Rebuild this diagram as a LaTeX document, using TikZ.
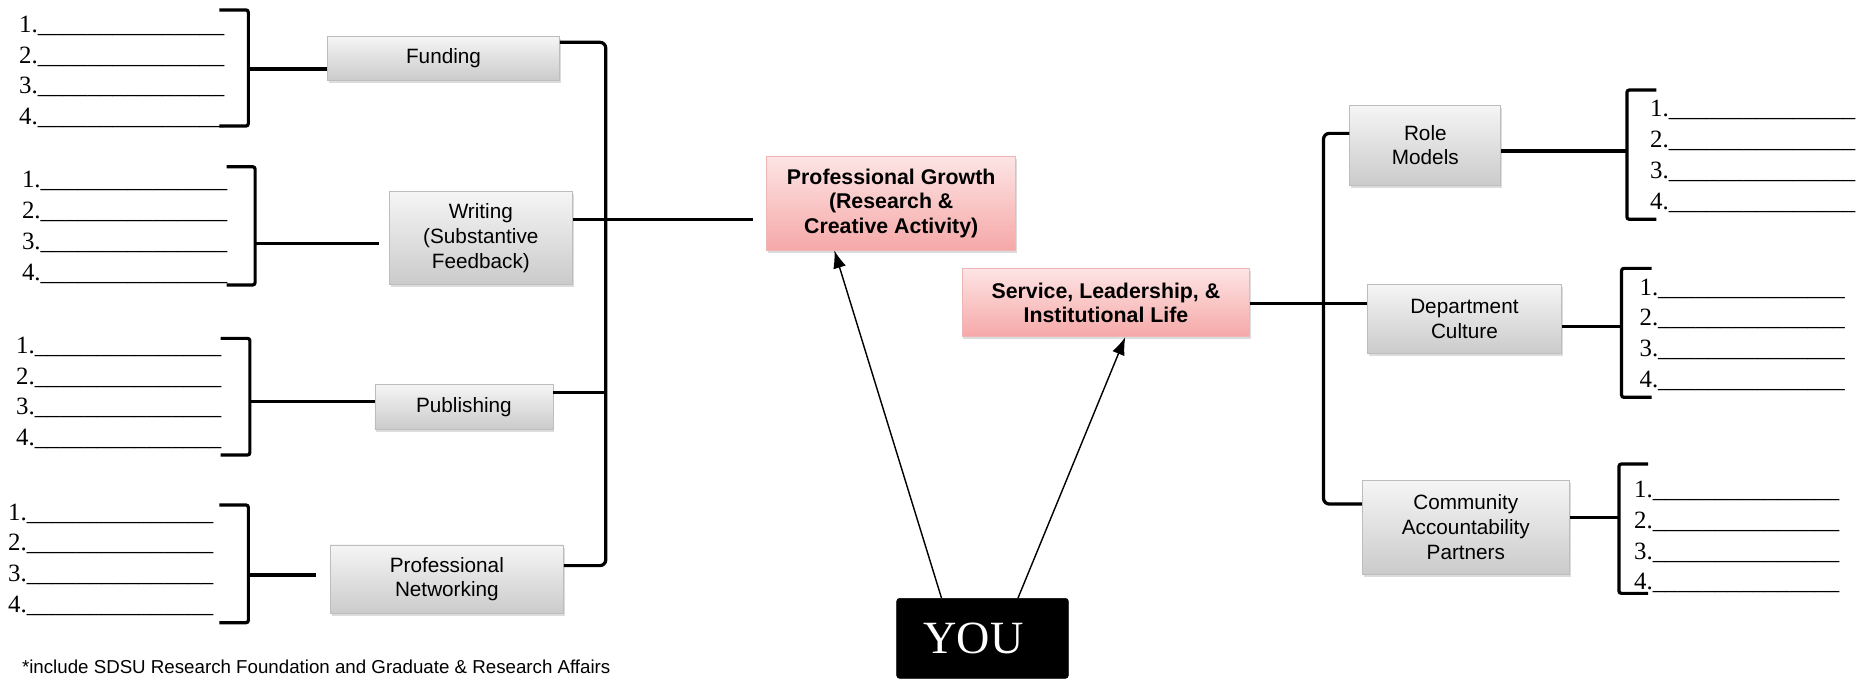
\documentclass[tikz,border=0pt]{standalone}
\usepackage{fontspec}
\setmainfont{Liberation Serif}
\newfontfamily\boxfont{Liberation Sans}
\usetikzlibrary{shadows,arrows.meta,calc}
\newcommand\myblanks{\_\_\_\_\_\_\_\_\_\_\_\_\_\_\_}
\definecolor{gtop}{HTML}{F5F5F5}
\definecolor{gbot}{HTML}{CBCBCB}
\definecolor{gline}{HTML}{BDBDBD}
\definecolor{ptop}{HTML}{FDE4E4}
\definecolor{pbot}{HTML}{F6A8A8}
\definecolor{pline}{HTML}{EFB4B4}
\begin{document}
\begin{tikzpicture}[x=1pt,y=-1pt,
  boxbase/.style={line width=0.6pt, align=center, inner sep=0pt,
    drop shadow={opacity=0.28, shadow xshift=1.2pt, shadow yshift=-2.2pt}},
  graybox/.style={boxbase, draw=gline, top color=gtop, bottom color=gbot,
    font=\boxfont\fontsize{17.5}{21}\selectfont},
  pinkbox/.style={boxbase, draw=pline, top color=ptop, bottom color=pbot,
    font=\boxfont\bfseries\fontsize{18}{20.5}\selectfont},
  youbox/.style={fill=black, draw=black, rounded corners=2.5pt, inner sep=0pt,
    text=white, font=\fontsize{39}{40}\selectfont},
  conn/.style={line width=2.7pt},
  brk/.style={line width=2.7pt, rounded corners=2pt},
  arr/.style={line width=1.2pt, -{Latex[length=15pt,width=11pt]}},
  numline/.style={anchor=base west, inner sep=0pt, font=\fontsize{21}{26}\selectfont},
]
\useasboundingbox (0,0) rectangle (1568,574);

% boxes
\node[graybox, minimum width=196pt, minimum height=36.6pt] (funding) at (374.5,49.3) {Funding};
\node[graybox, minimum width=154.2pt, minimum height=77.9pt] (writing) at (406,200.9) {Writing\\(Substantive\\Feedback)};
\node[graybox, minimum width=150.3pt, minimum height=38pt] (publishing) at (391.7,343.5) {Publishing};
\node[graybox, minimum width=197pt, minimum height=57.7pt] (networking) at (377.3,489) {Professional\\Networking};
\node[pinkbox, minimum width=210pt, minimum height=78.8pt] (pg) at (752.5,171.7) {Professional Growth\\(Research \&\\Creative Activity)};
\node[pinkbox, minimum width=243pt, minimum height=57.7pt] (service) at (933.8,255.5) {Service, Leadership, \&\\Institutional Life};
\node[graybox, minimum width=127.5pt, minimum height=67.5pt] (role) at (1203.5,122.5) {Role\\Models};
\node[graybox, minimum width=163.5pt, minimum height=58.6pt] (dept) at (1236.5,269.1) {Department\\Culture};
\node[graybox, minimum width=175pt, minimum height=78.8pt] (cap) at (1237.7,445.3) {Community\\Accountability\\Partners};
\node[youbox, minimum width=145pt, minimum height=67.6pt] (you) at (829.6,539) {\hspace*{-15pt}YOU};

% numbered blanks
\foreach \gx/\gy/\gn in {16/27.3/a, 18.4/158.5/b, 13.4/298.3/c, 6.7/439.1/d, 1393.2/98.5/e, 1384.2/249.1/f, 1379.6/420/g}{
  \foreach \i in {1,...,4}{
    \node[numline] (\gn\i) at (\gx,{\gy+26*(\i-1)}) {\i.\myblanks};
  }
}

% brackets (left)
\draw[brk] (185.3,8.4) -- (209.7,8.4) -- (209.7,106.4) -- (185.3,106.4);
\draw[brk] (191.3,140.8) -- (215.4,140.8) -- (215.4,240.6) -- (191.3,240.6);
\draw[brk] (186.3,285.7) -- (211,285.7) -- (211,384.2) -- (186.3,384.2);
\draw[brk] (185.3,426.4) -- (209.7,426.4) -- (209.7,525.8) -- (185.3,525.8);
% brackets (right)
\draw[brk] (1398.6,76) -- (1373.7,76) -- (1373.7,185.2) -- (1398.6,185.2);
\draw[brk] (1394.6,226.6) -- (1369.2,226.6) -- (1369.2,335.5) -- (1394.6,335.5);
\draw[brk] (1391.6,391.8) -- (1367,391.8) -- (1367,501) -- (1391.6,501);

\coordinate (b1) at (209.7,58.3);
\coordinate (b2) at (215.4,205.5);
\coordinate (b3) at (211,339.2);
\coordinate (b4) at (209.7,485.5);
\coordinate (b5) at (1373.7,127.5);
\coordinate (b6) at (1369.2,275.8);
\coordinate (b7) at (1367,437.1);

\draw[conn] (b1) -- (b1 -| funding.west);
\draw[conn, shorten >=9pt] (b2) -- (b2 -| writing.west);
\draw[conn] (b3) -- (b3 -| publishing.west);
\draw[conn, shorten >=11.7pt] (b4) -- (b4 -| networking.west);
\draw[conn] (b5) -- (b5 -| role.east);
\draw[conn] (b6) -- (b6 -| dept.east);
\draw[conn] (b7) -- (b7 -| cap.east);

% left spine
\coordinate (spineL) at (511.5,0);
\coordinate (pgend) at ([xshift=-11.5pt]pg.west);
\coordinate (n1) at ([yshift=11.4pt]networking.east);
\draw[conn, rounded corners=5pt] ([yshift=13.6pt]funding.east) coordinate (f1) -- (f1 -| spineL) -- (n1 -| spineL) -- (n1);
\draw[conn] ([yshift=15.7pt]writing.east) coordinate (w1) -- (w1 -| pgend);
\draw[conn] ([yshift=11.9pt]publishing.east) coordinate (p1) -- (p1 -| spineL);

% right spine
\coordinate (spineR) at (1117.5,0);
\coordinate (c1) at ([yshift=19.7pt]cap.west);
\draw[conn, rounded corners=5pt] ([yshift=9.9pt]role.west) coordinate (r1) -- (r1 -| spineR) -- (c1 -| spineR) -- (c1);
\draw[conn] ([yshift=-1pt]service.east) coordinate (s1) -- (s1 -| dept.west);

% arrows from YOU
\draw[arr] ($(you.north west)!0.262!(you.north east)$) -- ($(pg.south west)!0.272!(pg.south east)$);
\draw[arr] ($(you.north west)!0.706!(you.north east)$) -- ($(service.south west)!0.567!(service.south east)$);

% footnote
\node[anchor=base west, inner sep=0pt, font=\boxfont\fontsize{15.8}{18}\selectfont] (note) at (18.4,568.5) {*include SDSU Research Foundation and Graduate \& Research Affairs};
\end{tikzpicture}
\end{document}
